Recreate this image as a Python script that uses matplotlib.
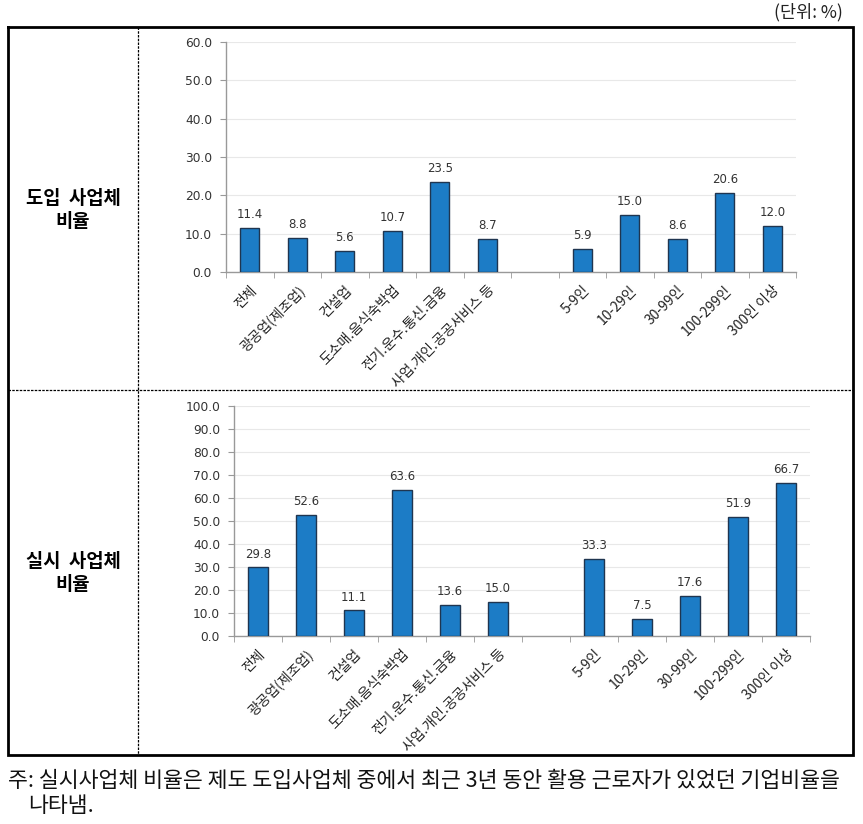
import matplotlib.pyplot as plt
import numpy as np

plt.rcParams['font.family'] = ['Noto Sans CJK KR', 'DejaVu Sans']

# data
industries = ['전체', '광공업(제조업)', '건설업', '도소매.음식숙박업',
              '전기.운수.통신.금융', '사업.개인.공공서비스 등']
sizes = ['5-9인', '10-29인', '30-99인', '100-299인', '300인 이상']
intro_ind = [11.4, 8.8, 5.6, 10.7, 23.5, 8.7]
intro_size = [5.9, 15.0, 8.6, 20.6, 12.0]
use_ind = [29.8, 52.6, 11.1, 63.6, 13.6, 15.0]
use_size = [33.3, 7.5, 17.6, 51.9, 66.7]

W, H = 863, 824
fig = plt.figure(figsize=(W / 100, H / 100), dpi=100)

# background layer in pixel coordinates for the table frame and text
bg = fig.add_axes([0, 0, 1, 1], zorder=0)
bg.set_xlim(0, W)
bg.set_ylim(H, 0)
bg.axis('off')

bg.plot([8, 853, 853, 8, 8], [27, 27, 755, 755, 27], color='black', lw=2.0,
        solid_joinstyle='miter')
bg.plot([138, 138], [27, 755], color='black', lw=0.9, ls=(0, (2, 1)))
bg.plot([8, 853], [390, 390], color='black', lw=0.9, ls=(0, (2, 1)))

bg.text(843, 12, '(단위: %)', ha='right', va='center', fontsize=12.6, color='#222222')
bg.text(73, 210, '도입  사업체\n비율', ha='center', va='center', fontsize=13.5,
        fontweight='bold', linespacing=1.3)
bg.text(73, 573, '실시  사업체\n비율', ha='center', va='center', fontsize=13.5,
        fontweight='bold', linespacing=1.3)
bg.text(8, 781, '주: 실시사업체 비율은 제도 도입사업체 중에서 최근 3년 동안 활용 근로자가 있었던 기업비율을',
        ha='left', va='center', fontsize=15.6, color='#111111')
bg.text(28, 806, '나타냄.', ha='left', va='center', fontsize=15.6, color='#111111')


def draw_panel(box, ind_vals, size_vals, ymax):
    x0, y0, x1, y1 = box
    ax = fig.add_axes([x0 / W, 1 - y1 / H, (x1 - x0) / W, (y1 - y0) / H], zorder=2)
    ax.patch.set_alpha(0)
    pos = list(range(len(ind_vals))) + [len(ind_vals) + 1 + i for i in range(len(size_vals))]
    vals = list(ind_vals) + list(size_vals)
    labels = industries + sizes
    ax.bar(pos, vals, width=0.4, color='#1C7CC6', edgecolor='#1F3550', linewidth=1.0, zorder=3)
    for p, v in zip(pos, vals):
        ax.annotate(f'{v:.1f}', (p, v), xytext=(0, 5), textcoords='offset points',
                    ha='center', va='bottom', fontsize=8.5, color='#333333',
                    family=['DejaVu Sans'])
    ax.set_xlim(-0.5, 11.5)
    ax.set_ylim(0, ymax)
    ax.set_yticks(np.arange(0, ymax + 1, 10))
    ax.set_yticklabels([f'{t:.1f}' for t in np.arange(0, ymax + 1, 10)],
                       fontsize=8.8, color='#333333', family=['DejaVu Sans'])
    ax.set_xticks(pos)
    ax.set_xticklabels(labels, rotation=45, ha='right', rotation_mode='anchor',
                       fontsize=10, color='#222222')
    ax.set_xticks(np.arange(-0.5, 12, 1), minor=True)
    ax.tick_params(axis='x', which='major', length=0, pad=8)
    ax.tick_params(axis='x', which='minor', length=4, color='#999999')
    ax.tick_params(axis='y', length=4, color='#999999', pad=6)
    ax.grid(axis='y', color='#e8e8e8', lw=0.8, zorder=0)
    for s in ['top', 'right']:
        ax.spines[s].set_visible(False)
    for s in ['left', 'bottom']:
        ax.spines[s].set_color('#999999')
        ax.spines[s].set_linewidth(1.0)
    return ax


draw_panel((226, 42, 796, 272), intro_ind, intro_size, 60)
draw_panel((234, 406, 810, 636), use_ind, use_size, 100)

fig.savefig('out.png', dpi=100)
